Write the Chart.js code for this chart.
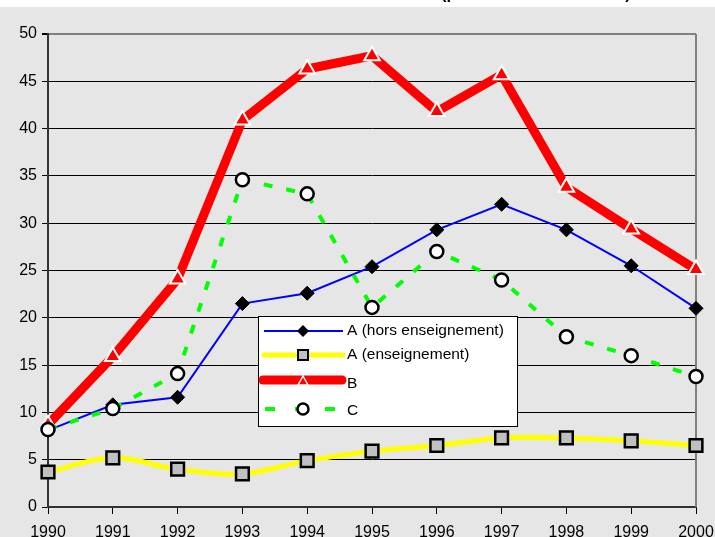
<!DOCTYPE html>
<html>
<head>
<meta charset="utf-8">
<script src="https://cdn.jsdelivr.net/npm/chart.js"></script>
<style>
  html, body { margin: 0; padding: 0; background: #fff; }
  #wrap { position: relative; width: 715px; height: 537px; overflow: hidden; }
</style>
</head>
<body>
<div id="wrap"><canvas id="graphique" width="715" height="537"></canvas></div>
<script>
// donnees
const annees = ['1990', '1991', '1992', '1993', '1994', '1995', '1996', '1997', '1998', '1999', '2000'];
const serieAHors = [8.1, 10.8, 11.6, 21.5, 22.6, 25.4, 29.3, 32.0, 29.3, 25.5, 21.0];
const serieAEns = [3.7, 5.2, 4.0, 3.5, 4.9, 5.9, 6.5, 7.3, 7.3, 7.0, 6.5];
const serieB = [8.7, 15.9, 24.1, 40.9, 46.3, 47.7, 41.8, 45.7, 33.8, 29.4, 25.1];
const serieC = [8.2, 10.4, 14.1, 34.6, 33.1, 21.1, 27.0, 24.0, 18.0, 16.0, 13.8];
const nomsSeries = ['A (hors enseignement)', 'A (enseignement)', 'B', 'C'];
const titre = '(pour 100 000 habitants)';

const police = '"Liberation Sans", Arial, sans-serif';

// fond gris + titre coupe en haut + bord droit
const fondPlugin = {
  id: 'fond',
  beforeDraw(chart) {
    const ctx = chart.ctx;
    ctx.save();
    ctx.fillStyle = '#fff';
    ctx.fillRect(0, 0, 715, 537);
    ctx.fillStyle = '#e6e6e6';
    ctx.fillRect(0, 7, 715, 530);
    ctx.fillStyle = '#000';
    ctx.font = 'bold 16.5px ' + police;
    ctx.textBaseline = 'alphabetic';
    ctx.fillText(titre, 441, -1.5);
    ctx.restore();
  },
  beforeDatasetsDraw(chart) {
    const a = chart.chartArea;
    const ctx = chart.ctx;
    ctx.save();
    ctx.strokeStyle = '#808080';
    ctx.lineWidth = 2;
    ctx.beginPath();
    ctx.moveTo(a.right, a.top);
    ctx.lineTo(a.right, a.bottom);
    ctx.stroke();
    ctx.restore();
  }
};

// legende dessinee dans le graphique
const legendePlugin = {
  id: 'legendeMaison',
  afterDraw(chart) {
    const ctx = chart.ctx;
    const x0 = 258, y0 = 316, w = 259, h = 110;
    ctx.save();
    ctx.fillStyle = '#fff';
    ctx.fillRect(x0, y0, w, h);
    ctx.strokeStyle = '#000';
    ctx.lineWidth = 1;
    ctx.strokeRect(x0 + 0.5, y0 + 0.5, w, h);

    const lignes = [331, 355, 382, 409];
    const xa = 264, xb = 343, xm = 303;
    ctx.lineCap = 'butt';

    // A hors
    ctx.strokeStyle = '#0000ff';
    ctx.lineWidth = 2;
    ctx.beginPath(); ctx.moveTo(xa, lignes[0]); ctx.lineTo(xb, lignes[0]); ctx.stroke();
    ctx.fillStyle = '#000';
    ctx.beginPath();
    ctx.moveTo(xm, lignes[0] - 6); ctx.lineTo(xm + 6, lignes[0]);
    ctx.lineTo(xm, lignes[0] + 6); ctx.lineTo(xm - 6, lignes[0]);
    ctx.closePath(); ctx.fill();

    // A ens
    ctx.strokeStyle = '#ffff00';
    ctx.lineWidth = 5;
    ctx.lineCap = 'round';
    ctx.beginPath(); ctx.moveTo(xa, lignes[1]); ctx.lineTo(xb, lignes[1]); ctx.stroke();
    ctx.lineCap = 'butt';
    ctx.fillStyle = '#c0c0c0';
    ctx.fillRect(xm - 5, lignes[1] - 5, 10, 10);
    ctx.strokeStyle = '#000';
    ctx.lineWidth = 2;
    ctx.strokeRect(xm - 5, lignes[1] - 5, 10, 10);

    // B
    ctx.strokeStyle = '#ff0000';
    ctx.lineWidth = 9;
    ctx.lineCap = 'round';
    ctx.beginPath(); ctx.moveTo(xa - 1, lignes[2] - 2); ctx.lineTo(xb - 1, lignes[2] - 2); ctx.stroke();
    ctx.lineCap = 'butt';
    ctx.fillStyle = '#ff0000';
    ctx.strokeStyle = '#fff';
    ctx.lineWidth = 1.5;
    ctx.beginPath();
    ctx.moveTo(xm, lignes[2] - 6); ctx.lineTo(xm + 5, lignes[2] + 3); ctx.lineTo(xm - 5, lignes[2] + 3);
    ctx.closePath(); ctx.fill(); ctx.stroke();

    // C
    ctx.strokeStyle = '#00ff00';
    ctx.lineWidth = 4;
    ctx.setLineDash([10, 20]);
    ctx.beginPath(); ctx.moveTo(xa + 1, lignes[3]); ctx.lineTo(xb, lignes[3]); ctx.stroke();
    ctx.setLineDash([]);
    ctx.fillStyle = '#fff';
    ctx.strokeStyle = '#000';
    ctx.lineWidth = 2.5;
    ctx.beginPath(); ctx.arc(xm, lignes[3], 5.5, 0, Math.PI * 2); ctx.fill(); ctx.stroke();

    ctx.fillStyle = '#000';
    ctx.font = '15.5px ' + police;
    ctx.textBaseline = 'middle';
    for (let i = 0; i < nomsSeries.length; i++) {
      ctx.fillText(nomsSeries[i], 347, lignes[i] + (i >= 2 ? 2 : 0));
    }
    ctx.restore();
  }
};

const donnees = {
  labels: annees,
  datasets: [
    {
      label: nomsSeries[0],
      data: serieAHors,
      borderColor: '#0000ff',
      borderWidth: 2,
      pointStyle: 'rectRot',
      pointRadius: 7,
      pointBackgroundColor: '#000',
      pointBorderColor: '#000',
      pointBorderWidth: 1,
      order: 3,
      clip: false
    },
    {
      label: nomsSeries[1],
      data: serieAEns,
      borderColor: '#ffff00',
      borderWidth: 5,
      tension: 0.35,
      pointStyle: 'rect',
      pointRadius: 9,
      pointBackgroundColor: '#c0c0c0',
      pointBorderColor: '#000',
      pointBorderWidth: 2.5,
      order: 2,
      clip: false
    },
    {
      label: nomsSeries[2],
      data: serieB,
      borderColor: '#ff0000',
      borderWidth: 9,
      borderCapStyle: 'round',
      borderJoinStyle: 'round',
      pointStyle: 'triangle',
      pointRadius: 9,
      pointBackgroundColor: '#ff0000',
      pointBorderColor: '#fff',
      pointBorderWidth: 2,
      order: 1,
      clip: false
    },
    {
      label: nomsSeries[3],
      data: serieC,
      borderColor: '#00ff00',
      borderWidth: 4,
      borderDash: [9, 14],
      pointStyle: 'circle',
      pointRadius: 6.5,
      pointBackgroundColor: '#fff',
      pointBorderColor: '#000',
      pointBorderWidth: 2.5,
      order: 0,
      clip: false
    }
  ]
};

const config = {
  type: 'line',
  data: donnees,
  options: {
    responsive: false,
    maintainAspectRatio: false,
    animation: false,
    layout: { padding: { top: 34, right: 19, left: 0, bottom: 0 } },
    plugins: {
      legend: { display: false },
      title: { display: false },
      tooltip: { enabled: false }
    },
    scales: {
      x: {
        offset: false,
        afterFit(scale) {
          scale.height = 30;
          scale.paddingLeft = 0;
          scale.paddingRight = 0;
        },
        border: { color: '#333', width: 2 },
        grid: { drawOnChartArea: false, drawTicks: true, tickLength: 7, tickColor: '#000', tickWidth: 1 },
        ticks: { color: '#000', font: { family: police, size: 16 }, padding: 9, maxRotation: 0, autoSkip: false }
      },
      y: {
        min: 0,
        max: 50,
        afterFit(scale) {
          scale.width = 48;
          scale.paddingTop = 0;
          scale.paddingBottom = 0;
        },
        border: { color: '#333', width: 2 },
        grid: {
          color: (c) => (c.tick && c.tick.value === 50 ? '#808080' : '#000'),
          lineWidth: (c) => (c.tick && c.tick.value === 50 ? 2 : 1),
          tickLength: 6,
          tickColor: '#000'
        },
        ticks: { stepSize: 5, color: '#000', font: { family: police, size: 16 }, padding: 5 }
      }
    }
  },
  plugins: [fondPlugin, legendePlugin]
};

var monGraphique = new Chart(document.getElementById('graphique'), config);
</script>
</body>
</html>
